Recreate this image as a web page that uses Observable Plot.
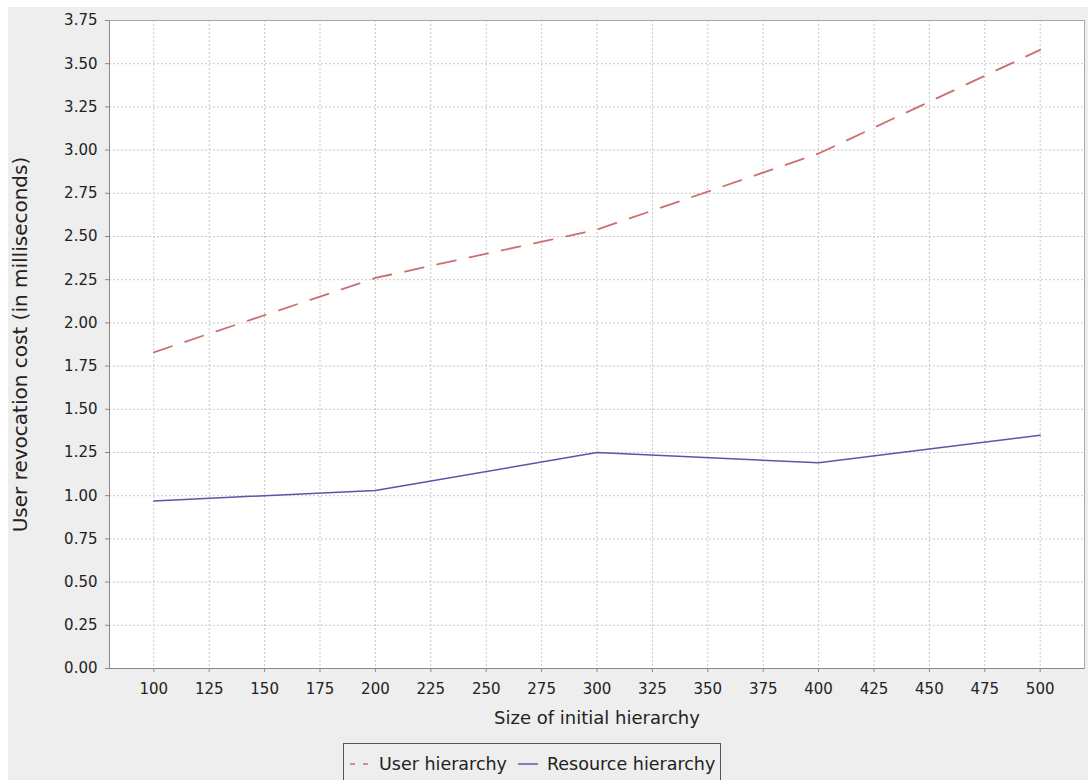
<!DOCTYPE html>
<html>
<head>
<meta charset="utf-8">
<script src="https://cdn.jsdelivr.net/npm/d3@7"></script>
<script src="https://cdn.jsdelivr.net/npm/@observablehq/plot@0.6"></script>
<style>
  html, body { margin: 0; padding: 0; background: #ffffff; overflow: hidden; }
  body { padding: 7px 0 0 8px; }
  #wrap { position: relative; width: 1080px; height: 773px; background: #eeeeee; overflow: hidden; }
  #legend { position: absolute; left: 335px; top: 736px; height: 60px; border: 1px solid #555; box-sizing: border-box;
            padding: 10px 5px 0 6px; display: flex; align-items: flex-start;
            font-family: "DejaVu Sans", sans-serif; font-size: 17.5px; color: #222; line-height: 20px; }
  #legend .item { display: flex; align-items: center; height: 20px; }
  #legend svg { margin-right: 9px; }
  #legend .gap { width: 11px; }
</style>
</head>
<body>
<div id="wrap"></div>
<script>
// ---- data ----
const sizes = [100, 200, 300, 400, 500];
const userCost = [1.83, 2.26, 2.54, 2.98, 3.58];
const resourceCost = [0.97, 1.03, 1.25, 1.19, 1.35];
const seriesNames = ["User hierarchy", "Resource hierarchy"];
const xTicks = [100, 125, 150, 175, 200, 225, 250, 275, 300, 325, 350, 375, 400, 425, 450, 475, 500];
const yTicks = [0, 0.25, 0.5, 0.75, 1, 1.25, 1.5, 1.75, 2, 2.25, 2.5, 2.75, 3, 3.25, 3.5, 3.75];
const xLabel = "Size of initial hierarchy";
const yLabel = "User revocation cost (in milliseconds)";

const userData = sizes.map((s, i) => ({size: s, cost: userCost[i]}));
const resourceData = sizes.map((s, i) => ({size: s, cost: resourceCost[i]}));

const userColor = "#cc6f6f";
const resourceColor = "#5558a8";

const chart = Plot.plot({
  width: 1080,
  height: 730,
  marginLeft: 101,
  marginTop: 13,
  marginRight: 4,
  marginBottom: 69,
  style: {background: "transparent", fontFamily: "DejaVu Sans, sans-serif", fontSize: "15px", color: "#222"},
  x: {domain: [80, 520]},
  y: {domain: [0, 3.75]},
  marks: [
    Plot.frame({fill: "white", stroke: "none"}),
    Plot.gridX(xTicks, {stroke: "#c8c8c8", strokeOpacity: 1, strokeDasharray: "2,2"}),
    Plot.gridY(yTicks, {stroke: "#c8c8c8", strokeOpacity: 1, strokeDasharray: "2,2"}),
    Plot.frame({stroke: "#aaaaaa"}),
    Plot.ruleX([80], {stroke: "#888"}),
    Plot.ruleY([0], {stroke: "#888"}),
    Plot.axisX(xTicks, {tickSize: 4, tickPadding: 11, label: null, fontSize: 15, stroke: "#888"}),
    Plot.axisY(yTicks, {tickSize: 4, tickPadding: 8, label: null, fontSize: 15, stroke: "#888", tickFormat: d3.format(".2f")}),
    Plot.line(userData, {x: "size", y: "cost", stroke: userColor, strokeWidth: 1.8, strokeDasharray: "19,14"}),
    Plot.line(resourceData, {x: "size", y: "cost", stroke: resourceColor, strokeWidth: 1.5}),
    Plot.text([xLabel], {text: d => d, frameAnchor: "bottom", dy: 55, fontSize: 18, fill: "#222"}),
    Plot.text([yLabel], {text: d => d, frameAnchor: "left", textAnchor: "middle", dx: -89, rotate: -90, fontSize: 20, fill: "#222", style: "letter-spacing: 1.2px"})
  ]
});

const wrap = document.getElementById("wrap");
wrap.appendChild(chart);

// legend
const legend = document.createElement("div");
legend.id = "legend";
legend.innerHTML = `
  <div class="item"><svg width="20" height="10"><line x1="0" y1="5" x2="20" y2="5" stroke="${userColor}" stroke-width="1.5" stroke-dasharray="5,8"/></svg><span>${seriesNames[0]}</span></div>
  <div class="gap"></div>
  <div class="item"><svg width="20" height="10"><line x1="0" y1="5" x2="20" y2="5" stroke="${resourceColor}" stroke-width="1.5"/></svg><span>${seriesNames[1]}</span></div>`;
wrap.appendChild(legend);
</script>
</body>
</html>
